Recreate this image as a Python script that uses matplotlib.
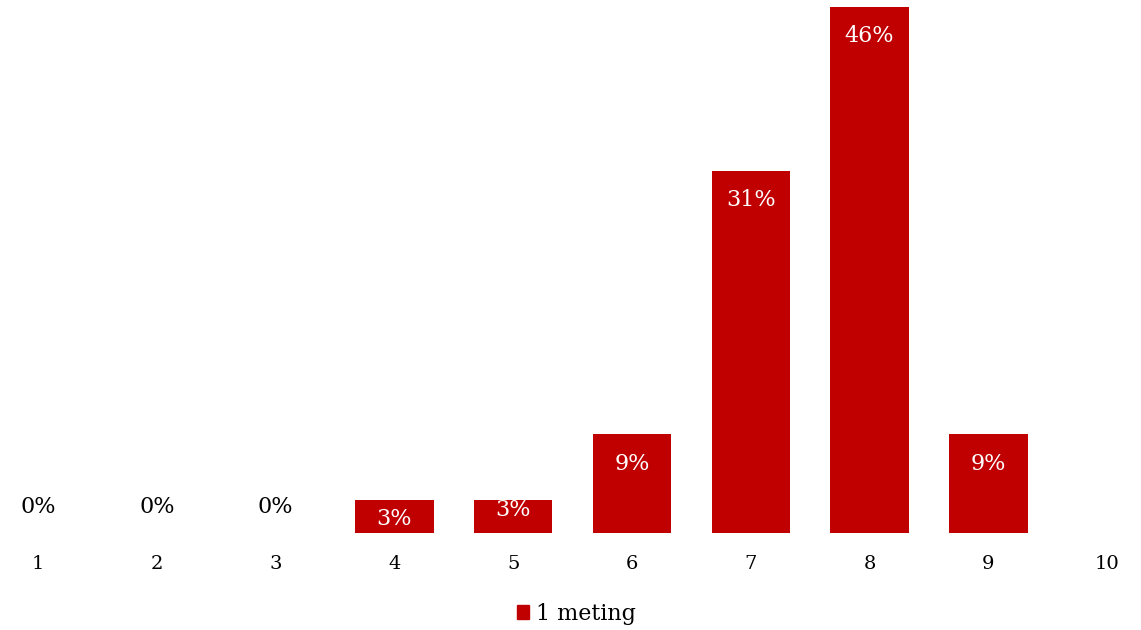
import matplotlib
matplotlib.use("Agg")
import matplotlib.pyplot as plt
from matplotlib.patches import Patch

categories = ["1", "2", "3", "4", "5", "6", "7", "8", "9", "10"]
values = [0, 0, 0, 2.86, 2.86, 8.57, 31.43, 45.71, 8.57, None]
labels = ["0%", "0%", "0%", "3%", "3%", "9%", "31%", "46%", "9%", None]
series_name = "1 meting"
color = "#C00000"

plt.rcParams["font.family"] = ["DejaVu Serif"]

fig = plt.figure(figsize=(11.41, 6.3), dpi=100)
ax = fig.add_axes([0, (630 - 533) / 630, 1, 526 / 630])

xs = list(range(1, len(categories) + 1))
for i, (x, v, lab) in enumerate(zip(xs, values, labels)):
    if v is None:
        continue
    if v > 0:
        ax.bar(x, v, width=0.66, color=color)
        if v > 5:
            ax.annotate(lab, (x, v), xytext=(0, -21), textcoords="offset points",
                        ha="center", va="center", color="white", fontsize=16)
        else:
            dy = -2 if i == 3 else 5
            ax.annotate(lab, (x, v / 2), xytext=(0, dy), textcoords="offset points",
                        ha="center", va="center", color="white", fontsize=16)
    else:
        ax.annotate(lab, (x, 0), xytext=(0, 19), textcoords="offset points",
                    ha="center", va="center", color="black", fontsize=16)

ax.set_xlim(1 + (0 - 38) / 118.8, 1 + (1141 - 38) / 118.8)
ax.set_ylim(0, 45.71)
ax.set_xticks(xs)
ax.set_xticklabels(categories, fontsize=14)
ax.tick_params(axis="x", length=0, pad=16)
ax.set_yticks([])
for s in ax.spines.values():
    s.set_visible(False)

fig.legend(handles=[Patch(color=color, label=series_name)], loc="center",
           bbox_to_anchor=(0.505, 1 - 614 / 630), frameon=False, fontsize=16,
           handlelength=0.55, handleheight=0.55, handletextpad=0.3)

fig.savefig("out.png", dpi=100)
